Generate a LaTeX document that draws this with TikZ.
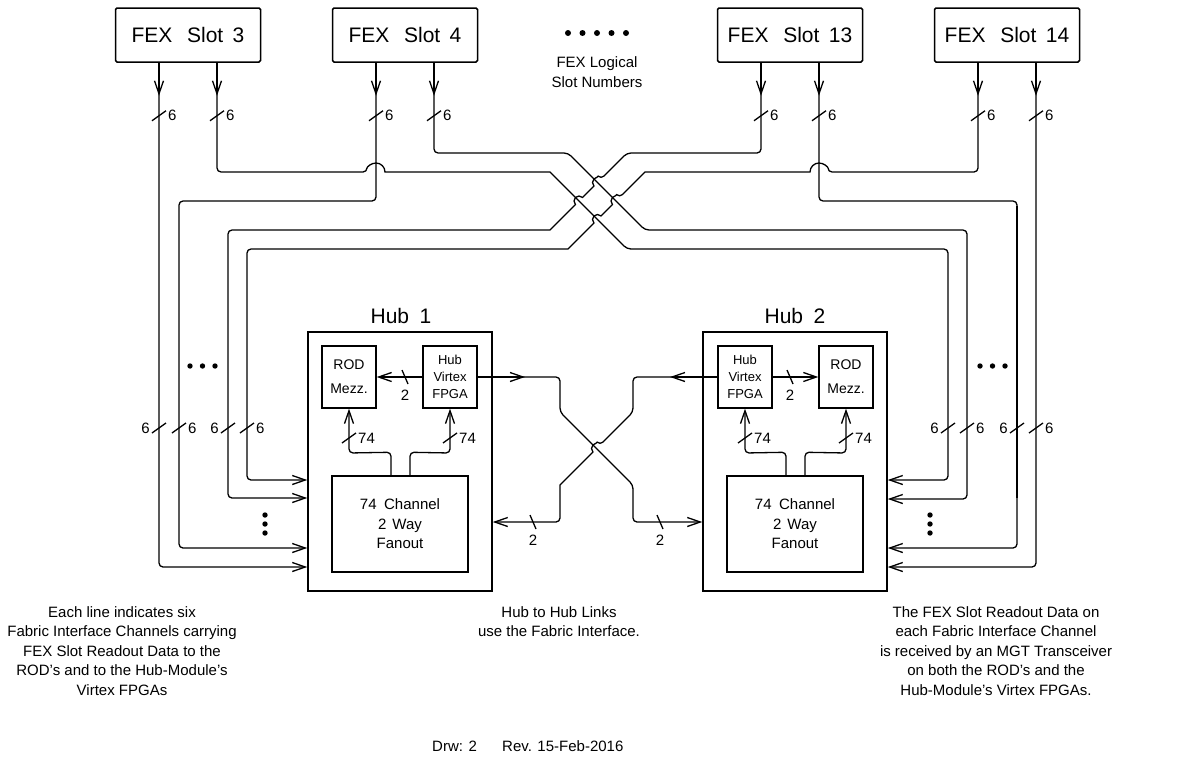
\documentclass[tikz,border=0pt]{standalone}
\usepackage{fontspec}
\setmainfont{Liberation Sans}
\usetikzlibrary{arrows.meta,calc}

\tikzset{
  wire/.style={line width=1.3pt, rounded corners=4pt},
  barb/.style={-{Straight Barb[length=13pt,width=9pt]}},
  tick/.style={line width=1.3pt},
  buslabel/.style={inner sep=0pt, font=\fontsize{15}{15}\selectfont},
  slotbox/.style={draw, line width=1.5pt, rounded corners=1.5pt, minimum width=145pt, minimum height=54pt, inner sep=0pt, font=\fontsize{21}{21}\selectfont},
  hubbox/.style={draw, line width=1.5pt, minimum width=184pt, minimum height=259pt, inner sep=0pt},
  hubname/.style={inner sep=0pt, font=\fontsize{21}{21}\selectfont},
  chipbox/.style={draw, line width=1.3pt, minimum width=54pt, minimum height=62pt, inner sep=0pt, align=center},
  fanbox/.style={draw, line width=1.5pt, minimum width=136pt, minimum height=96pt, inner sep=0pt, align=center, font=\fontsize{15}{19.5}\selectfont},
  note/.style={align=center, inner sep=0pt, font=\fontsize{15}{19.5}\selectfont},
}

\newcommand{\slotname}[1]{FEX\hspace{0.7em}Slot\hspace{0.45em}#1}
% bus width marks
\newcommand{\vbusR}[3]{\draw[tick] ($(#1)+(-7,5)$) -- ($(#1)+(7,-5)$); \node[buslabel, anchor=west] (#2) at ($(#1)+(9,0)$) {#3};}
\newcommand{\vbusL}[3]{\draw[tick] ($(#1)+(-7,5)$) -- ($(#1)+(7,-5)$); \node[buslabel, anchor=east] (#2) at ($(#1)+(-9,0)$) {#3};}
\newcommand{\hbus}[3]{\draw[tick] ($(#1)+(-3,-7)$) -- ($(#1)+(3,7)$); \node[buslabel] (#2) at ($(#1)+(0,18)$) {#3};}
% line hop over a crossing wire
\newcommand{\hopover}[4]{-- ($(#1)+(#2:#4)$) [sharp corners] arc[start angle=#2, delta angle=#3, radius=#4]}

\begin{document}
\begin{tikzpicture}[x=1pt, y=-1pt]

    \useasboundingbox (0,0) rectangle (1204,758);

    % FEX slots
    \node[slotbox] (s3)  at (188,35)  {\slotname{3}};
    \node[slotbox] (s4)  at (405,35)  {\slotname{4}};
    \node[slotbox] (s13) at (790,35)  {\slotname{13}};
    \node[slotbox] (s14) at (1007,35) {\slotname{14}};

    \foreach \i in {0,...,4} \fill (568+14.5*\i,33) circle (3);
    \node[note, font=\fontsize{15}{20}\selectfont] (logical) at (597,72) {FEX Logical\\Slot Numbers};

    % Hubs
    \node[hubbox] (hub1) at (400,461.5) {};
    \node[hubbox] (hub2) at (795,461.5) {};
    \node[hubname] (hub1name) at (401,316) {Hub\hspace{0.5em}1};
    \node[hubname] (hub2name) at (795,316) {Hub\hspace{0.5em}2};

    \node[chipbox, font=\fontsize{14}{24}\selectfont] (rod1)  at (349,377) {ROD\\Mezz.};
    \node[chipbox, font=\fontsize{13}{17}\selectfont] (fpga1) at (450,377) {Hub\\Virtex\\FPGA};
    \node[chipbox, font=\fontsize{13}{17}\selectfont] (fpga2) at (745,377) {Hub\\Virtex\\FPGA};
    \node[chipbox, font=\fontsize{14}{24}\selectfont] (rod2)  at (846,377) {ROD\\Mezz.};

    \node[fanbox] (fan1) at (400,524) {74\hspace{0.5em}Channel\\2\hspace{0.4em}Way\\Fanout};
    \node[fanbox] (fan2) at (795,524) {74\hspace{0.5em}Channel\\2\hspace{0.4em}Way\\Fanout};

    % Slot outputs
    \foreach \s in {3,4,13,14} {
        \coordinate (s\s-a) at ([xshift=-29pt]s\s.south);
        \coordinate (s\s-b) at ([xshift=29pt]s\s.south);
        \coordinate (t\s-a) at ($(s\s-a)+(0,53)$);
        \coordinate (t\s-b) at ($(s\s-b)+(0,53)$);
        \draw[wire, barb] (s\s-a) -- ++(0,33);
        \draw[wire, barb] (s\s-b) -- ++(0,33);
        \vbusR{t\s-a}{w\s-a}{6}
        \vbusR{t\s-b}{w\s-b}{6}
    }

    % Routes to Hub 1
    \draw[wire, barb] (s3-a) -- (s3-a |- 0,567) -- (hub1.west |- 0,567);
    \draw[wire, barb] (s4-a) -- (376,201) -- (179,201) -- (179,548) -- (hub1.west |- 0,548);
    \draw[wire, barb] (s13-a) -- (761,153) -- (627,153)
        \hopover{597.5,182.5}{-45}{-180}{5} \hopover{579,201}{-45}{-180}{5}
        -- (550,230) [rounded corners=4pt] -- (228,230) -- (228,498) -- (hub1.west |- 0,498);
    \draw[wire, barb] (s14-a) -- (978,172) \hopover{819,172}{0}{-180}{9}
        -- (645,172) [rounded corners=4pt]
        \hopover{616,201}{-45}{-180}{5} \hopover{597.5,219.5}{-45}{-180}{5}
        -- (568,249) [rounded corners=4pt] -- (247,249) -- (247,480) -- (hub1.west |- 0,480);

    % Routes to Hub 2
    \draw[wire, barb] (s3-b) -- (217,172) \hopover{376,172}{180}{180}{9}
        -- (550,172) [rounded corners=4pt] -- (627,249) -- (948,249) -- (948,480) -- (hub2.east |- 0,480);
    \draw[wire, barb] (s4-b) -- (434,153) -- (568,153) -- (645,230) -- (967,230) -- (967,499) -- (hub2.east |- 0,499);
    \draw[wire, barb] (s13-b) -- (819,201) -- (1017,201) -- (1017,548) -- (hub2.east |- 0,548);
    \draw[line width=2.4pt] (1017,206) -- (1017,498);
    \draw[wire, barb] (s14-b) -- (1036,567) -- (hub2.east |- 0,567);

    \vbusL{159,428}{w1}{6}
    \vbusR{179,428}{w2}{6}
    \vbusL{228,428}{w3}{6}
    \vbusR{247,428}{w4}{6}
    \vbusL{948,428}{w5}{6}
    \vbusR{967,428}{w6}{6}
    \vbusL{1017,428}{w7}{6}
    \vbusR{1036,428}{w8}{6}

    \foreach \i in {0,1,2} {
        \fill (190+12.5*\i,366) circle (2.7);
        \fill (980+12.5*\i,366) circle (2.7);
        \fill (265,515+9*\i) circle (2.7);
        \fill (930,515+9*\i) circle (2.7);
    }

    % Inside the hubs
    \draw[wire, barb] (fpga1.west) -- (rod1.east);
    \hbus{405,377}{r1}{2}
    \draw[wire, barb] (fpga2.east) -- (rod2.west);
    \hbus{790,377}{r2}{2}

    \draw[wire, barb] ([xshift=-9pt]fan1.north) -- ++(0,-23) -- (rod1.south |- 0,453) -- (rod1.south);
    \draw[wire, barb] ([xshift=10pt]fan1.north) -- ++(0,-23) -- (fpga1.south |- 0,453) -- (fpga1.south);
    \draw[wire, barb] ([xshift=-9pt]fan2.north) -- ++(0,-23) -- (fpga2.south |- 0,453) -- (fpga2.south);
    \draw[wire, barb] ([xshift=10pt]fan2.north) -- ++(0,-23) -- (rod2.south |- 0,453) -- (rod2.south);
    \vbusR{349,438}{f1}{74}
    \vbusR{450,438}{f2}{74}
    \vbusR{745,438}{f3}{74}
    \vbusR{846,438}{f4}{74}

    % Hub to Hub links
    \draw[wire, barb] (fpga1.east) -- (525,377);
    \draw[wire, barb] (fpga1.east) -- (560,377) -- (560,412) -- (633,485) -- (633,522) -- (hub2.west |- 0,522);
    \draw[wire, barb] (fpga2.west) -- (670,377);
    \draw[wire, barb] (fpga2.west) -- (633,377) -- (633,412) \hopover{596.5,448.5}{-45}{-180}{5}
        -- (560,485) [rounded corners=4pt] -- (560,522) -- (hub1.east |- 0,522);
    \hbus{533,522}{k1}{2}
    \hbus{660,522}{k2}{2}

    % Notes
    \node[note] (leftnote) at (122,651) {Each line indicates six\\Fabric Interface Channels carrying\\FEX Slot Readout Data to the\\ROD's and to the Hub-Module's\\Virtex FPGAs};
    \node[note] (midnote) at (559,621.5) {Hub to Hub Links\\use the Fabric Interface.};
    \node[note] (rightnote) at (996,651) {The FEX Slot Readout Data on\\each Fabric Interface Channel\\is received by an MGT Transceiver\\on both the ROD's and the\\Hub-Module's Virtex FPGAs.};
    \node[note, anchor=west] (drw) at (432,746) {Drw: 2};
    \node[note, anchor=west] (rev) at (502,746) {Rev. 15-Feb-2016};

\end{tikzpicture}
\end{document}
